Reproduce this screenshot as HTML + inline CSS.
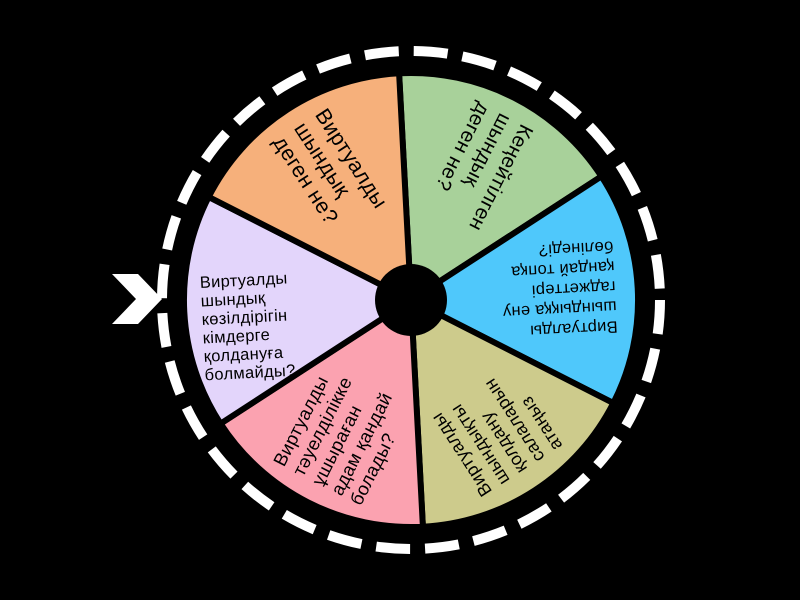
<!DOCTYPE html>
<html><head><meta charset="utf-8"><style>
html,body{margin:0;padding:0;background:#000;}
svg{display:block}
text{font-family:"Liberation Sans","DejaVu Sans",sans-serif;fill:#000;letter-spacing:0.3px;}
</style></head><body>
<svg width="800" height="600" viewBox="0 0 800 600" xmlns="http://www.w3.org/2000/svg">
<rect width="800" height="600" fill="#000"/>
<circle cx="411" cy="300" r="249" fill="none" stroke="#fff" stroke-width="10" stroke-dasharray="34 15"/>
<g stroke="#000" stroke-width="6">
<path d="M411,300 L399.1,73.3 A227,227 0 0 1 601.4,176.4 Z" fill="#a8d19a"/>
<path d="M411,300 L601.4,176.4 A227,227 0 0 1 613.3,403.1 Z" fill="#4fc8fb"/>
<path d="M411,300 L613.3,403.1 A227,227 0 0 1 422.9,526.7 Z" fill="#cdcb8c"/>
<path d="M411,300 L422.9,526.7 A227,227 0 0 1 220.6,423.6 Z" fill="#fba2b0"/>
<path d="M411,300 L220.6,423.6 A227,227 0 0 1 208.7,196.9 Z" fill="#e3d5fb"/>
<path d="M411,300 L208.7,196.9 A227,227 0 0 1 399.1,73.3 Z" fill="#f6b07b"/>
</g>
<circle cx="411" cy="300" r="36" fill="#000"/>
<g transform="rotate(-3 411 300)">
<text font-size="16.5"><tspan x="201" y="277">Виртуалды</tspan><tspan x="201" y="295.5">шындық</tspan><tspan x="201" y="314">көзілдірігін</tspan><tspan x="201" y="332.5">кімдерге</tspan><tspan x="201" y="351">қолдануға</tspan><tspan x="201" y="369.5">болмайды?</tspan></text>
</g>
<g transform="rotate(57 411 300)">
<text font-size="21.5"><tspan x="203" y="280">Виртуалды</tspan><tspan x="203" y="305">шындық</tspan><tspan x="203" y="330">деген не?</tspan></text>
</g>
<g transform="rotate(117 411 300)">
<text font-size="20.5"><tspan x="203" y="282">Кеңейтілген</tspan><tspan x="203" y="306">шындық</tspan><tspan x="203" y="330">деген не?</tspan></text>
</g>
<g transform="rotate(177 411 300)">
<text font-size="16.5"><tspan x="206" y="268">Виртуалды</tspan><tspan x="206" y="288">шындыққа ену</tspan><tspan x="206" y="308">гаджеттері</tspan><tspan x="206" y="328">қандай топқа</tspan><tspan x="206" y="348">бөлінеді?</tspan></text>
</g>
<g transform="rotate(237 411 300)">
<text font-size="18"><tspan x="206" y="264">Виртуалды</tspan><tspan x="206" y="285">шындықты</tspan><tspan x="206" y="306">қолдану</tspan><tspan x="206" y="327">салаларын</tspan><tspan x="206" y="348">атаңыз</tspan></text>
</g>
<g transform="rotate(297 411 300)">
<text font-size="18.5"><tspan x="204" y="263">Виртуалды</tspan><tspan x="204" y="284.5">тәуелділікке</tspan><tspan x="204" y="306">ұшыраған</tspan><tspan x="204" y="327.5">адам қандай</tspan><tspan x="204" y="349">болады?</tspan></text>
</g>
<polygon points="112,274 138,274 162,299 138,324 112,324 136,299" fill="#fff"/>
</svg>
</body></html>
